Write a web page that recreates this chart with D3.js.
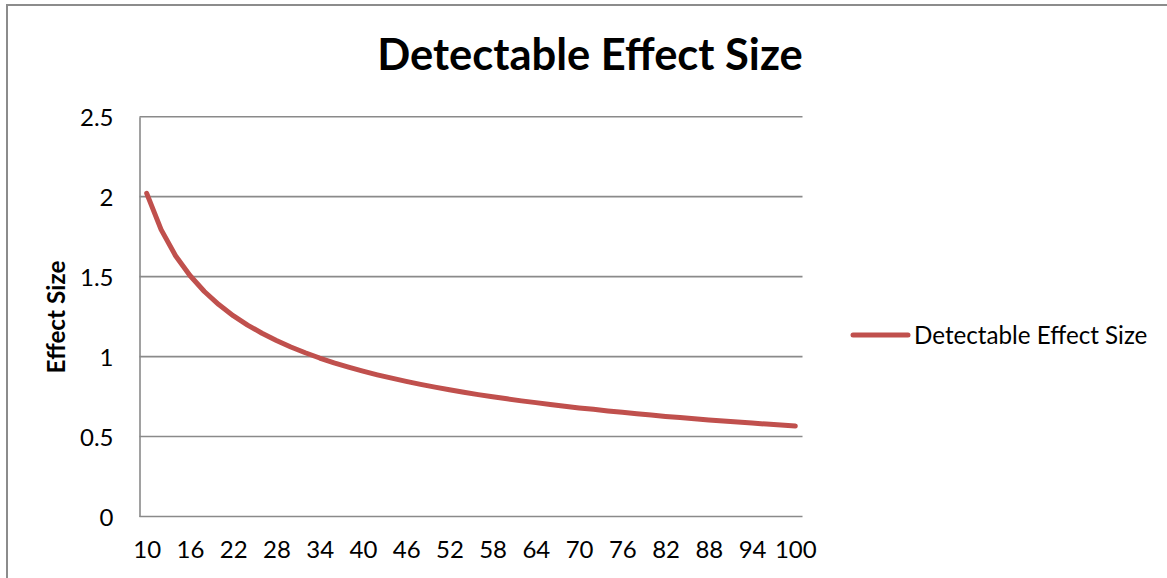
<!DOCTYPE html>
<html>
<head>
<meta charset="utf-8">
<script src="https://cdn.jsdelivr.net/npm/d3@7"></script>
<style>
  html, body { margin: 0; padding: 0; background: #fff; }
  svg { display: block; }
  text { font-family: Lato, "Open Sans", sans-serif; fill: #000; }
</style>
</head>
<body>
<svg id="chart" width="1167" height="578"></svg>
<script>
// Sample size (total N) per category
const sampleSizes = [10, 12, 14, 16, 18, 20, 22, 24, 26, 28, 30, 32, 34, 36, 38, 40,
  42, 44, 46, 48, 50, 52, 54, 56, 58, 60, 62, 64, 66, 68, 70, 72, 74, 76, 78, 80,
  82, 84, 86, 88, 90, 92, 94, 96, 98, 100];

// Minimum detectable effect size for each sample size
const effectSizes = [2.021, 1.794, 1.631, 1.507, 1.407, 1.325, 1.256, 1.197, 1.146, 1.101,
  1.060, 1.024, 0.991, 0.961, 0.934, 0.909, 0.886, 0.865, 0.845, 0.826, 0.809, 0.793,
  0.777, 0.762, 0.749, 0.736, 0.723, 0.712, 0.700, 0.690, 0.679, 0.670, 0.660, 0.652,
  0.643, 0.635, 0.626, 0.619, 0.611, 0.604, 0.597, 0.591, 0.584, 0.578, 0.572, 0.566];

// Category labels shown on the x axis
const xTickLabels = [10, 16, 22, 28, 34, 40, 46, 52, 58, 64, 70, 76, 82, 88, 94, 100];
// Value ticks on the y axis
const yTickValues = [0, 0.5, 1, 1.5, 2, 2.5];

const chartTitle = "Detectable Effect Size";
const yAxisTitle = "Effect Size";
const seriesName = "Detectable Effect Size";

const lineColor = "#C0504D";
const gridColor = "#8a8a8a";

const svg = d3.select("#chart");

// Outer chart frame
svg.append("rect")
  .attr("x", 7).attr("y", 5)
  .attr("width", 1300).attr("height", 700)
  .attr("fill", "none")
  .attr("stroke", "#8c8c8c")
  .attr("stroke-width", 2);

const plot = { left: 139.5, right: 802.5, top: 116.7, bottom: 516.5 };

const x = d3.scalePoint()
  .domain(sampleSizes)
  .range([plot.left, plot.right])
  .padding(0.5);

const y = d3.scaleLinear()
  .domain([0, 2.5])
  .range([plot.bottom, plot.top]);

// Horizontal gridlines
svg.append("g")
  .selectAll("line")
  .data(yTickValues.filter(v => v > 0))
  .join("line")
  .attr("x1", plot.left).attr("x2", plot.right)
  .attr("y1", d => y(d)).attr("y2", d => y(d))
  .attr("stroke", gridColor)
  .attr("stroke-width", 1.6);

// Y axis
const yAxis = svg.append("g")
  .attr("transform", `translate(${plot.left},0)`)
  .call(d3.axisLeft(y).tickValues(yTickValues).tickSize(0).tickPadding(26)
    .tickFormat(d => String(d)));
yAxis.select(".domain").attr("stroke", gridColor).attr("stroke-width", 1.6);
yAxis.selectAll("text")
  .attr("font-size", 24)
  .attr("font-family", "Lato, sans-serif")
  .attr("fill", "#000")
  .attr("dy", "0.36em");

// X axis
const xAxis = svg.append("g")
  .attr("transform", `translate(0,${plot.bottom})`)
  .call(d3.axisBottom(x).tickValues(xTickLabels).tickSize(0).tickPadding(24)
    .tickFormat(d => String(d)));
xAxis.select(".domain").attr("stroke", gridColor).attr("stroke-width", 1.6)
  .attr("d", `M${plot.left},0H${plot.right}`);
xAxis.selectAll("text")
  .attr("font-size", 24)
  .attr("font-family", "Lato, sans-serif")
  .attr("fill", "#000")
  .attr("dy", "0.71em");

// Data line
const line = d3.line()
  .x((d, i) => x(sampleSizes[i]))
  .y(d => y(d));

svg.append("path")
  .datum(effectSizes)
  .attr("d", line)
  .attr("fill", "none")
  .attr("stroke", lineColor)
  .attr("stroke-width", 5)
  .attr("stroke-linecap", "round")
  .attr("stroke-linejoin", "round");

// Title
svg.append("text")
  .attr("x", 590).attr("y", 70)
  .attr("text-anchor", "middle")
  .attr("font-size", 43.5)
  .attr("font-weight", "bold")
  .text(chartTitle);

// Y axis title
svg.append("text")
  .attr("transform", "translate(65,317) rotate(-90)")
  .attr("text-anchor", "middle")
  .attr("font-size", 24.3)
  .attr("font-weight", "bold")
  .text(yAxisTitle);

// Legend
const legend = svg.append("g").attr("transform", "translate(853,335)");
legend.append("line")
  .attr("x1", 0).attr("x2", 55)
  .attr("y1", 0).attr("y2", 0)
  .attr("stroke", lineColor)
  .attr("stroke-width", 5)
  .attr("stroke-linecap", "round");
legend.append("text")
  .attr("x", 61).attr("y", 8.5)
  .attr("font-size", 24.2)
  .text(seriesName);
</script>
</body>
</html>
